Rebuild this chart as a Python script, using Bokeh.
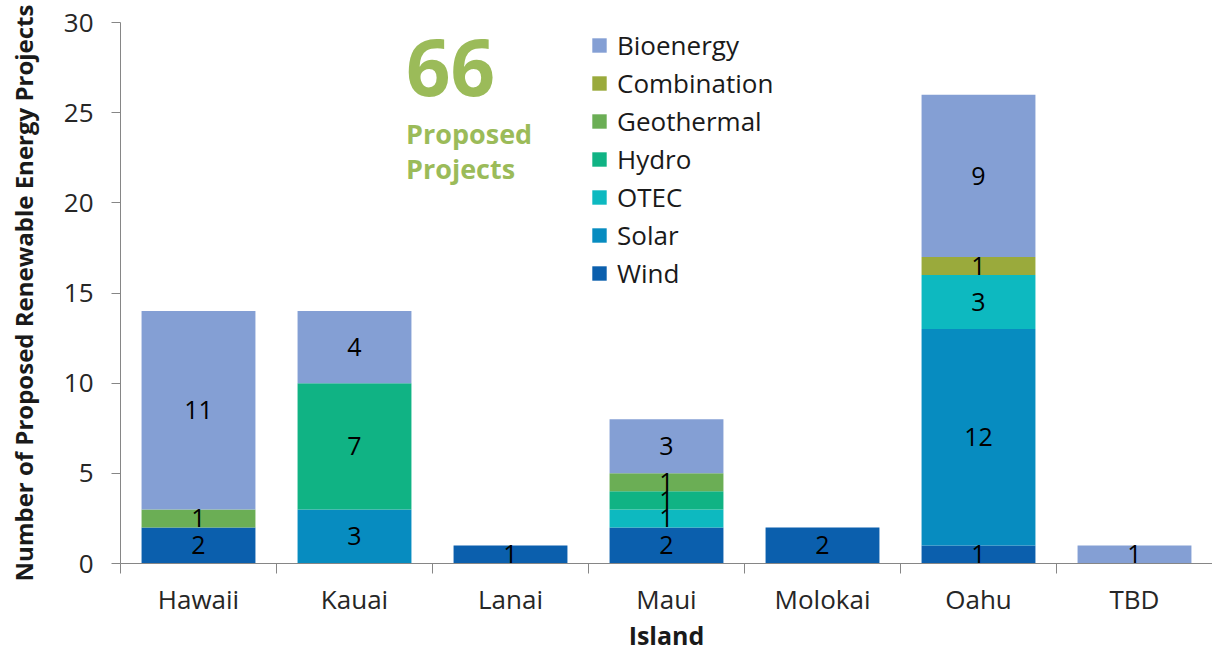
from bokeh.plotting import figure
from bokeh.models import ColumnDataSource, FixedTicker, Legend, LegendItem, Label, Range1d
from bokeh.core.properties import value
from bokeh.embed import file_html
from bokeh.resources import INLINE

islands = ["Hawaii", "Kauai", "Lanai", "Maui", "Molokai", "Oahu", "TBD"]
types = ["Wind", "Solar", "OTEC", "Hydro", "Geothermal", "Combination", "Bioenergy"]
wind = [2, 0, 1, 2, 2, 1, 0]
solar = [0, 3, 0, 0, 0, 12, 0]
otec = [0, 0, 0, 1, 0, 3, 0]
hydro = [0, 7, 0, 1, 0, 0, 0]
geothermal = [1, 0, 0, 1, 0, 0, 0]
combination = [0, 0, 0, 0, 0, 1, 0]
bioenergy = [11, 4, 0, 3, 0, 9, 1]
colors = ["#0B5FAD", "#078CC0", "#0DB9C0", "#10B384", "#6BAE55", "#9AAA3C", "#849FD4"]
y_ticks = [0, 5, 10, 15, 20, 25, 30]

FONT = "Open Sans"
GREEN = "#9BBB59"

series = [wind, solar, otec, hydro, geothermal, combination, bioenergy]
xs = [i + 0.5 for i in range(len(islands))]
data = {"x": xs}
for t, s in zip(types, series):
    data[t] = s
src = ColumnDataSource(data)

p = figure(width=1212, height=656, output_backend="svg", toolbar_location=None,
           x_range=Range1d(0, len(islands)), y_range=Range1d(0, 30),
           min_border_left=120, min_border_right=0, min_border_top=22, min_border_bottom=93)
p.outline_line_color = None
p.grid.visible = False
p.background_fill_color = "white"

renderers = p.vbar_stack(types, x="x", width=0.73, source=src, color=colors, line_color=None)

# data labels
lx, ly, lt = [], [], []
bottoms = [0] * len(islands)
for s in series:
    for i, v in enumerate(s):
        if v > 0:
            lx.append(xs[i])
            ly.append(bottoms[i] + v / 2)
            lt.append(str(v))
        bottoms[i] += v
p.text(x=lx, y=ly, text=lt, text_align="center", text_baseline="middle",
       text_font=value(FONT), text_font_size="25px", text_color="black")

# legend
items = [LegendItem(label=t, renderers=[r]) for t, r in zip(types, renderers)][::-1]
legend = Legend(items=items, location=(470, 272), orientation="vertical",
                glyph_width=18, glyph_height=18, label_height=30, spacing=2,
                label_standoff=9, padding=0, margin=0,
                border_line_color=None, background_fill_alpha=0,
                label_text_font=FONT, label_text_font_size="26px", label_text_color="#1a1a1a")
p.add_layout(legend)

# total annotation
total = sum(sum(s) for s in series)
p.add_layout(Label(x=1.83, y=27.48, text=str(total), text_font=FONT, text_font_size="78px",
                   text_font_style="bold", text_color=GREEN, text_baseline="middle"))
p.add_layout(Label(x=1.83, y=23.85, text="Proposed", text_font=FONT, text_font_size="27px",
                   text_font_style="bold", text_color=GREEN, text_baseline="middle"))
p.add_layout(Label(x=1.83, y=21.9, text="Projects", text_font=FONT, text_font_size="27px",
                   text_font_style="bold", text_color=GREEN, text_baseline="middle"))

# axes
AX = "#868686"
xa = p.xaxis[0]
xa.ticker = FixedTicker(ticks=xs, minor_ticks=list(range(len(islands) + 1)))
xa.major_label_overrides = {x: n for x, n in zip(xs, islands)}
xa.major_tick_out = 0
xa.major_tick_in = 0
xa.minor_tick_out = 10
xa.minor_tick_in = 0
xa.minor_tick_line_color = AX
xa.axis_line_color = AX
xa.major_label_standoff = 7
xa.major_label_text_font = FONT
xa.major_label_text_font_size = "26px"
xa.major_label_text_color = "#262626"
xa.axis_label = "Island"
xa.axis_label_text_font = FONT
xa.axis_label_text_font_size = "25px"
xa.axis_label_text_font_style = "bold"
xa.axis_label_text_color = "#1a1a1a"
xa.axis_label_standoff = -2

ya = p.yaxis[0]
ya.ticker = FixedTicker(ticks=y_ticks, minor_ticks=[])
ya.major_tick_out = 9
ya.major_tick_in = 0
ya.major_tick_line_color = AX
ya.axis_line_color = AX
ya.major_label_standoff = 18
ya.major_label_text_font = FONT
ya.major_label_text_font_size = "26px"
ya.major_label_text_color = "#262626"
ya.axis_label = "Number of Proposed Renewable Energy Projects"
ya.axis_label_text_font = FONT
ya.axis_label_text_font_size = "24px"
ya.axis_label_text_font_style = "bold"
ya.axis_label_text_color = "#1a1a1a"
ya.axis_label_standoff = 21

open("out.html", "w").write(file_html(p, INLINE))
